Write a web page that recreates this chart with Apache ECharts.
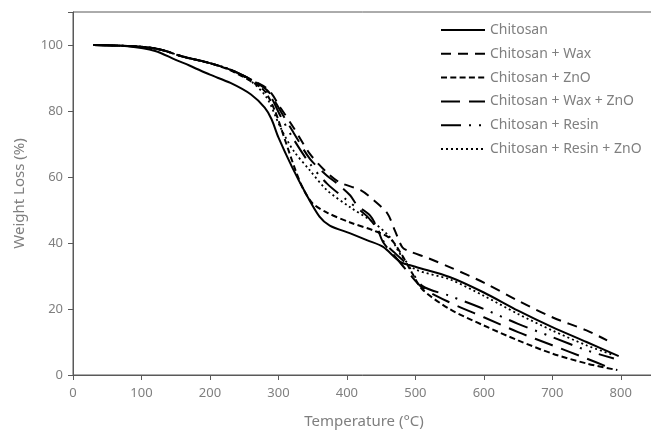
<!DOCTYPE html>
<html><head><meta charset="utf-8">
<script src="https://cdn.jsdelivr.net/npm/echarts@6/dist/echarts.min.js"></script>
<style>html,body{margin:0;padding:0;background:#fff}#c{width:651px;height:431px}</style>
</head><body><div id="c"></div>
<script>
const seriesNames = ["Chitosan","Chitosan + Wax","Chitosan + ZnO","Chitosan + Wax + ZnO","Chitosan + Resin","Chitosan + Resin + ZnO"];
const xTicks = [0,100,200,300,400,500,600,700,800];
const yTicks = [0,20,40,60,80,100];
const chitosan = [[30,100],[80,99.6],[120,98.2],[150,95.5],[170,93.8],[200,91],[230,88.5],[260,85],[280,81],[290,77.5],[300,72],[320,63],[340,55],[360,48],[375,45.3],[405,42.9],[430,40.8],[453,38.8],[478,34.3],[500,32.8],[550,29.7],[600,25],[650,19.5],[700,14.5],[750,10],[797,5.7]];
const wax = [[30,100],[100,99.5],[130,98.5],[160,96.5],[200,94.5],[230,92.5],[260,89.5],[285,86.5],[303,81],[322,75],[346,67],[371,61.3],[390,58.3],[420,56],[439,53],[459,49],[470,43.8],[481,38.7],[490,37.6],[520,35.3],[550,32.7],[600,28],[650,22.5],[700,17.5],[750,13.5],[780,10.5]];
const zno = [[30,100],[100,99.5],[130,98.5],[160,96.5],[200,94.5],[230,92.3],[260,89],[280,86],[295,80],[310,71],[325,62],[336,56.5],[350,52],[371,49.2],[405,46.2],[439,43.8],[463,41.4],[480,36.5],[495,31],[510,26],[550,20],[600,15],[650,10.5],[700,6.5],[750,3.5],[795,1.5]];
const waxZno = [[30,100],[100,99.5],[130,98.5],[160,96.5],[200,94.5],[230,92.5],[260,89.5],[285,86],[303,80],[322,73.5],[346,65.5],[371,60.4],[386,58],[405,54.4],[415,51.4],[434,48.3],[444,44.7],[453,40.2],[470,36],[490,31],[510,26.5],[550,22],[600,17.5],[650,13],[700,9],[750,5],[780,2.5]];
const resin = [[30,100],[100,99.5],[130,98.5],[160,96.5],[200,94.5],[230,92.5],[260,89.5],[285,85.5],[303,78.5],[322,71.5],[346,64],[371,58],[400,53],[430,48],[445,44],[455,40],[470,37],[490,33],[510,27],[550,24],[600,20],[650,15.5],[700,11.5],[750,7.5],[790,5]];
const resinZno = [[30,100],[100,99.5],[130,98.5],[160,96.5],[200,94.5],[230,92.5],[260,89],[283,84],[303,75],[322,68],[346,62],[371,56],[405,50.8],[439,46.2],[463,41.7],[480,36],[500,32],[550,29],[600,24],[650,18.5],[700,13.5],[750,9],[790,6]];
const dataSets = [chitosan, wax, zno, waxZno, resin, resinZno];

const styles = [
  {type:'solid', width:2},
  {type:[10,7], width:2},
  {type:[6,3.3], width:2},
  {type:[19,9], width:2},
  {type:[20,8,2,8,2,8], width:2},
  {type:[2,3], width:1.8}
];

const chart = echarts.init(document.getElementById('c'), null, {renderer:'canvas'});
const font = 'Noto Sans';
chart.setOption({
  animation:false,
  backgroundColor:'#fff',
  grid:{left:73, top:12, right:-4, bottom:56, containLabel:false, outerBoundsMode:'none', show:true, borderColor:'#595959', borderWidth:1, backgroundColor:'transparent'},
  legend:{
    left:435, top:18, orient:'vertical', itemWidth:44, itemHeight:14, itemGap:9.8,
    itemStyle:{opacity:0},
    textStyle:{color:'#7f7f7f', fontSize:14, fontFamily:font, padding:[0,0,0,0]},
    data: seriesNames
  },
  xAxis:{
    type:'value', min:0, max:850, interval:100,
    name:'Temperature (°C)', nameLocation:'middle', nameGap:39,
    nameTextStyle:{color:'#7f7f7f', fontSize:15, fontFamily:font},
    axisLine:{lineStyle:{color:'#595959', width:1}},
    axisTick:{show:true, length:5, lineStyle:{color:'#595959'}},
    axisLabel:{color:'#7f7f7f', fontSize:13, fontFamily:font, margin:12, formatter:v=> xTicks.includes(v)? String(v):''},
    splitLine:{show:false}
  },
  yAxis:{
    type:'value', min:0, max:110, interval:20,
    name:'Weight Loss (%)', nameLocation:'middle', nameGap:46, nameRotate:90,
    nameTextStyle:{color:'#7f7f7f', fontSize:15, fontFamily:font},
    axisLine:{show:true, lineStyle:{color:'#595959', width:1}},
    axisTick:{show:true, length:5, lineStyle:{color:'#595959'}},
    axisLabel:{color:'#7f7f7f', fontSize:13, fontFamily:font, margin:10, formatter:v=> yTicks.includes(v)? String(v):''},
    splitLine:{show:false}
  },
  series: seriesNames.map((n,i)=>({
    name:n, type:'line', data:dataSets[i], smooth:0.3, showSymbol:false, symbol:'none',
    lineStyle:{color:'#000', width:styles[i].width, type:styles[i].type, cap:'butt'},
    itemStyle:{color:'#000'}
  }))
});
</script></body></html>
